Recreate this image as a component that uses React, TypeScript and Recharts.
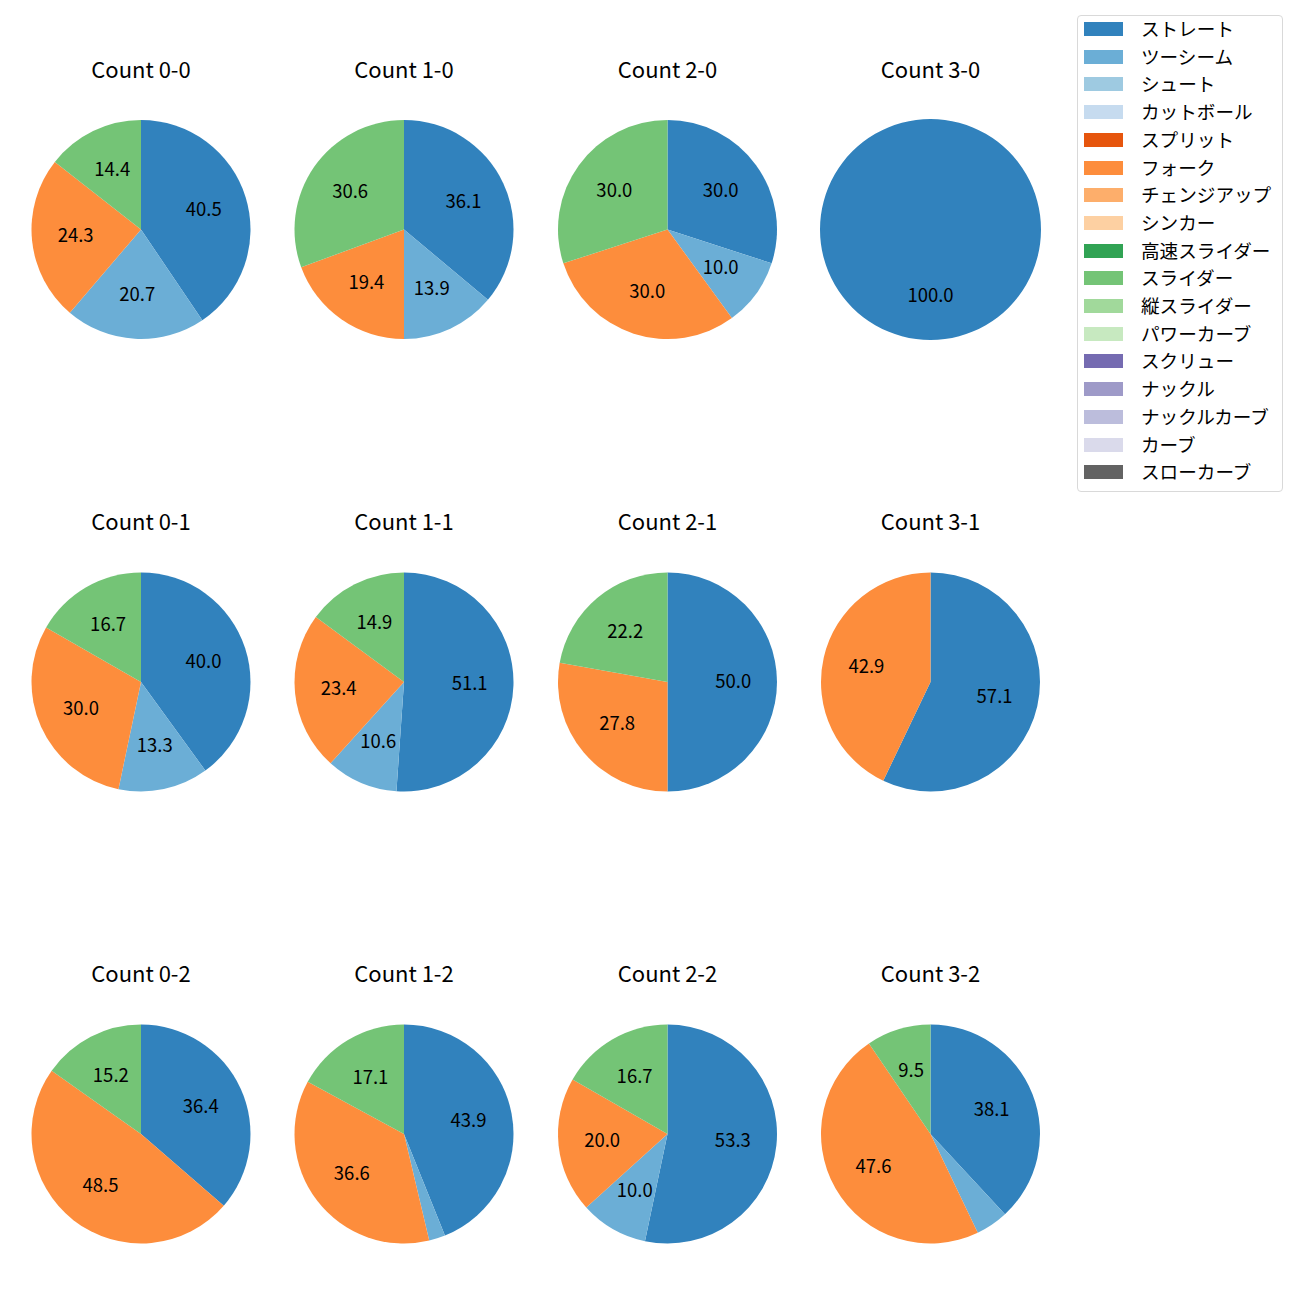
import { PieChart, Pie, Cell } from "recharts";

const pitchTypes = [
  "ストレート",
  "ツーシーム",
  "シュート",
  "カットボール",
  "スプリット",
  "フォーク",
  "チェンジアップ",
  "シンカー",
  "高速スライダー",
  "スライダー",
  "縦スライダー",
  "パワーカーブ",
  "スクリュー",
  "ナックル",
  "ナックルカーブ",
  "カーブ",
  "スローカーブ",
];

const pitchColors = [
  "#3182bd",
  "#6baed6",
  "#9ecae1",
  "#c6dbef",
  "#e6550d",
  "#fd8d3c",
  "#fdae6b",
  "#fdd0a2",
  "#31a354",
  "#74c476",
  "#a1d99b",
  "#c7e9c0",
  "#756bb1",
  "#9e9ac8",
  "#bcbddc",
  "#dadaeb",
  "#636363",
];

type Slice = [string, number];

const count00: Slice[] = [["ストレート", 40.5], ["ツーシーム", 20.7], ["フォーク", 24.3], ["スライダー", 14.4]];
const count10: Slice[] = [["ストレート", 36.1], ["ツーシーム", 13.9], ["フォーク", 19.4], ["スライダー", 30.6]];
const count20: Slice[] = [["ストレート", 30.0], ["ツーシーム", 10.0], ["フォーク", 30.0], ["スライダー", 30.0]];
const count30: Slice[] = [["ストレート", 100.0]];
const count01: Slice[] = [["ストレート", 40.0], ["ツーシーム", 13.3], ["フォーク", 30.0], ["スライダー", 16.7]];
const count11: Slice[] = [["ストレート", 51.1], ["ツーシーム", 10.6], ["フォーク", 23.4], ["スライダー", 14.9]];
const count21: Slice[] = [["ストレート", 50.0], ["フォーク", 27.8], ["スライダー", 22.2]];
const count31: Slice[] = [["ストレート", 57.1], ["フォーク", 42.9]];
const count02: Slice[] = [["ストレート", 36.4], ["フォーク", 48.5], ["スライダー", 15.2]];
const count12: Slice[] = [["ストレート", 43.9], ["ツーシーム", 2.4], ["フォーク", 36.6], ["スライダー", 17.1]];
const count22: Slice[] = [["ストレート", 53.3], ["ツーシーム", 10.0], ["フォーク", 20.0], ["スライダー", 16.7]];
const count32: Slice[] = [["ストレート", 38.1], ["ツーシーム", 4.8], ["フォーク", 47.6], ["スライダー", 9.5]];

const panels = [
  { title: "Count 0-0", data: count00 },
  { title: "Count 1-0", data: count10 },
  { title: "Count 2-0", data: count20 },
  { title: "Count 3-0", data: count30 },
  { title: "Count 0-1", data: count01 },
  { title: "Count 1-1", data: count11 },
  { title: "Count 2-1", data: count21 },
  { title: "Count 3-1", data: count31 },
  { title: "Count 0-2", data: count02 },
  { title: "Count 1-2", data: count12 },
  { title: "Count 2-2", data: count22 },
  { title: "Count 3-2", data: count32 },
];

const FONT = "'Noto Sans CJK JP', 'Noto Sans', sans-serif";
const colX = [141, 404, 667.5, 930.5];
const rowY = [229.5, 682, 1134];
const RAD = Math.PI / 180;

const colorOf = (name: string) => pitchColors[pitchTypes.indexOf(name)];

// autopct-style label, hidden for tiny slices
const renderLabel = (props: any) => {
  const { cx, cy, midAngle, outerRadius, value } = props;
  if (value < 5) return null;
  const r = outerRadius * 0.6;
  const x = cx + r * Math.cos(-midAngle * RAD);
  const y = cy + r * Math.sin(-midAngle * RAD);
  return (
    <text
      x={x}
      y={y - 2}
      textAnchor="middle"
      dominantBaseline="central"
      fill="#000"
      fontSize={18.5}
      fontFamily={FONT}
    >
      {Number(value).toFixed(1)}
    </text>
  );
};

export default function App() {
  return (
    <div style={{ position: "absolute", left: 0, top: 0, width: 1300, height: 1300, background: "#fff", fontFamily: FONT }}>
      <PieChart width={1300} height={1300} margin={{ top: 0, right: 0, bottom: 0, left: 0 }}>
        {panels.map((p, i) => {
          const data = p.data.map(([name, value]) => ({ name, value }));
          const r = i === 3 ? 110.5 : 109.5;
          return (
            <Pie
              key={p.title}
              data={data}
              dataKey="value"
              nameKey="name"
              cx={colX[i % 4]}
              cy={rowY[Math.floor(i / 4)]}
              outerRadius={r}
              innerRadius={0}
              startAngle={90}
              endAngle={-270}
              stroke="none"
              label={renderLabel}
              labelLine={false}
              isAnimationActive={false}
            >
              {data.map((d) => (
                <Cell key={d.name} fill={colorOf(d.name)} />
              ))}
            </Pie>
          );
        })}
      </PieChart>

      {panels.map((p, i) => (
        <div
          key={p.title}
          style={{
            position: "absolute",
            left: colX[i % 4] - 100,
            top: rowY[Math.floor(i / 4)] - 177,
            width: 200,
            textAlign: "center",
            fontSize: 22,
            lineHeight: "30px",
            color: "#000",
          }}
        >
          {p.title}
        </div>
      ))}

      <div
        style={{
          position: "absolute",
          left: 1077,
          top: 15,
          width: 206,
          height: 477,
          border: "1px solid #d9d9d9",
          borderRadius: 4,
          boxSizing: "border-box",
          background: "#fff",
        }}
      >
        {pitchTypes.map((name, i) => (
          <div
            key={name}
            style={{
              position: "absolute",
              left: 6,
              top: 6 + i * 27.7,
              height: 14,
              display: "flex",
              alignItems: "center",
              fontSize: 18.6,
              lineHeight: "14px",
              color: "#000",
              whiteSpace: "nowrap",
            }}
          >
            <span style={{ display: "inline-block", width: 39, height: 14, background: pitchColors[i], marginRight: 18 }} />
            <span style={{ position: "relative", top: -1 }}>{name}</span>
          </div>
        ))}
      </div>
    </div>
  );
}
